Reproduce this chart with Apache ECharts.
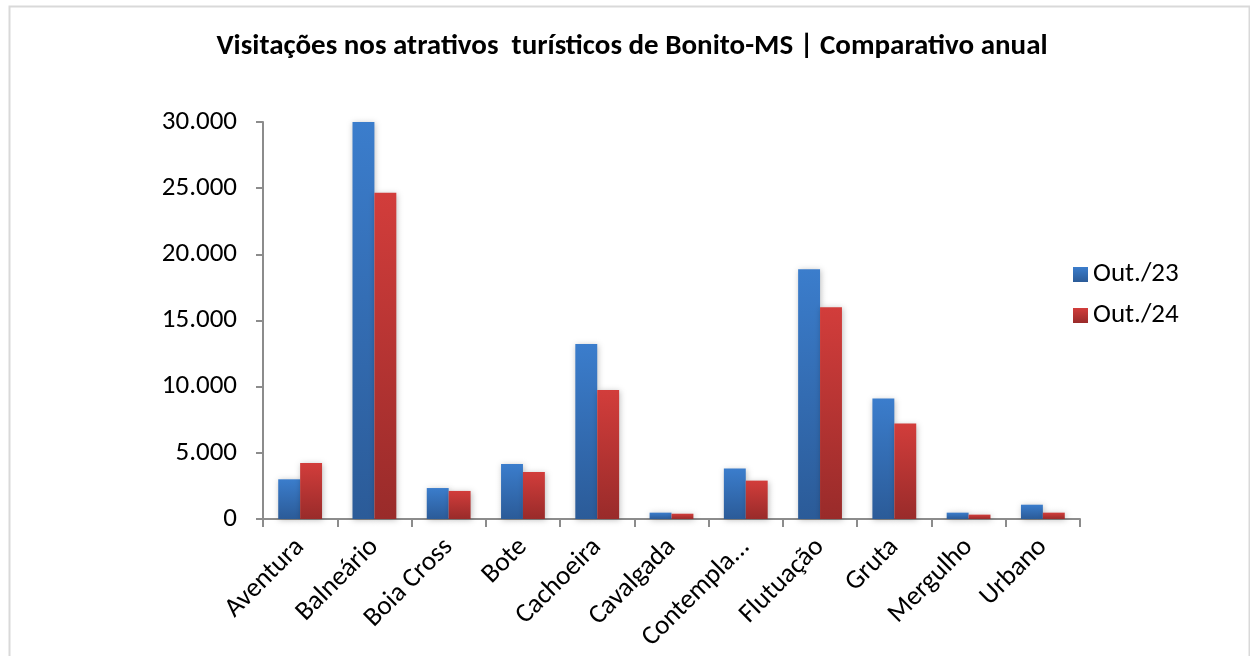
<!DOCTYPE html>
<html>
<head>
<meta charset="utf-8">
<script src="https://cdn.jsdelivr.net/npm/echarts@6/dist/echarts.min.js"></script>
<style>
html,body{margin:0;padding:0;background:#fff;}
#c{width:1250px;height:656px;}
</style>
</head>
<body>
<div id="c"></div>
<script>
const categories = ['Aventura','Balneário','Boia Cross','Bote','Cachoeira','Cavalgada','Contempla...','Flutuação','Gruta','Mergulho','Urbano'];
const out23 = [3000, 30000, 2340, 4160, 13230, 480, 3810, 18870, 9100, 480, 1080];
const out24 = [4230, 24650, 2120, 3550, 9750, 400, 2900, 16000, 7210, 330, 480];
const seriesNames = ['Out./23', 'Out./24'];
const yTicks = [0, 5000, 10000, 15000, 20000, 25000, 30000];

const FONT = 'Carlito, Lato, "Noto Sans", sans-serif';
const chart = echarts.init(document.getElementById('c'));

function grad(top, bottom){
  return new echarts.graphic.LinearGradient(0,0,0,1,[{offset:0,color:top},{offset:1,color:bottom}]);
}
function fmt(v){ return String(v).replace(/\B(?=(\d{3})+(?!\d))/g, '.'); }

chart.setOption({
  backgroundColor: '#fff',
  animation: false,
  graphic: [{
    type: 'rect', left: 7, top: 4,
    shape: {width: 1240, height: 660},
    style: {fill: 'none', stroke: '#d9d9d9', lineWidth: 2}
  }],
  title: {
    text: 'Visitações nos atrativos  turísticos de Bonito-MS | Comparativo anual',
    left: 627, top: 27, textAlign: 'center',
    textStyle: {fontFamily: FONT, fontSize: 29, fontWeight: 'bold', color: '#000'}
  },
  legend: {
    orient: 'vertical', left: 1068, top: 256, itemGap: 14,
    itemWidth: 15, itemHeight: 15, icon: 'rect',
    data: seriesNames,
    textStyle: {fontFamily: FONT, fontSize: 27, color: '#000', padding: [0,0,0,0]}
  },
  grid: {left: 263, right: 170, top: 122, bottom: 137, containLabel: false},
  xAxis: {
    type: 'category', data: categories,
    axisLine: {lineStyle: {color: '#8c8c8c', width: 2}},
    axisTick: {show: true, length: 8, alignWithLabel: false, lineStyle: {color: '#8c8c8c', width: 2}},
    axisLabel: {rotate: 45, fontFamily: FONT, fontSize: 27, color: '#000', margin: 24, interval: 0}
  },
  yAxis: {
    type: 'value', min: 0, max: 30000, interval: 5000,
    axisLine: {show: true, lineStyle: {color: '#8c8c8c', width: 2}},
    axisTick: {show: true, length: 7, inside: false, lineStyle: {color: '#8c8c8c', width: 2}},
    splitLine: {show: false},
    axisLabel: {fontFamily: FONT, fontSize: 27, color: '#000', margin: 26,
      formatter: v => yTicks.includes(v) ? fmt(v) : ''}
  },
  series: [
    {name: seriesNames[0], type: 'bar', data: out23, barGap: '0%', barCategoryGap: '41%',
     itemStyle: {color: grad('#3b7dcc', '#2b5b98'), shadowColor: 'rgba(0,0,0,0.25)', shadowBlur: 6, shadowOffsetX: 1, shadowOffsetY: 1}},
    {name: seriesNames[1], type: 'bar', data: out24, barGap: '0%', barCategoryGap: '41%',
     itemStyle: {color: grad('#d23d3b', '#992b2a'), shadowColor: 'rgba(0,0,0,0.25)', shadowBlur: 6, shadowOffsetX: 1, shadowOffsetY: 1}}
  ]
});
</script>
</body>
</html>
